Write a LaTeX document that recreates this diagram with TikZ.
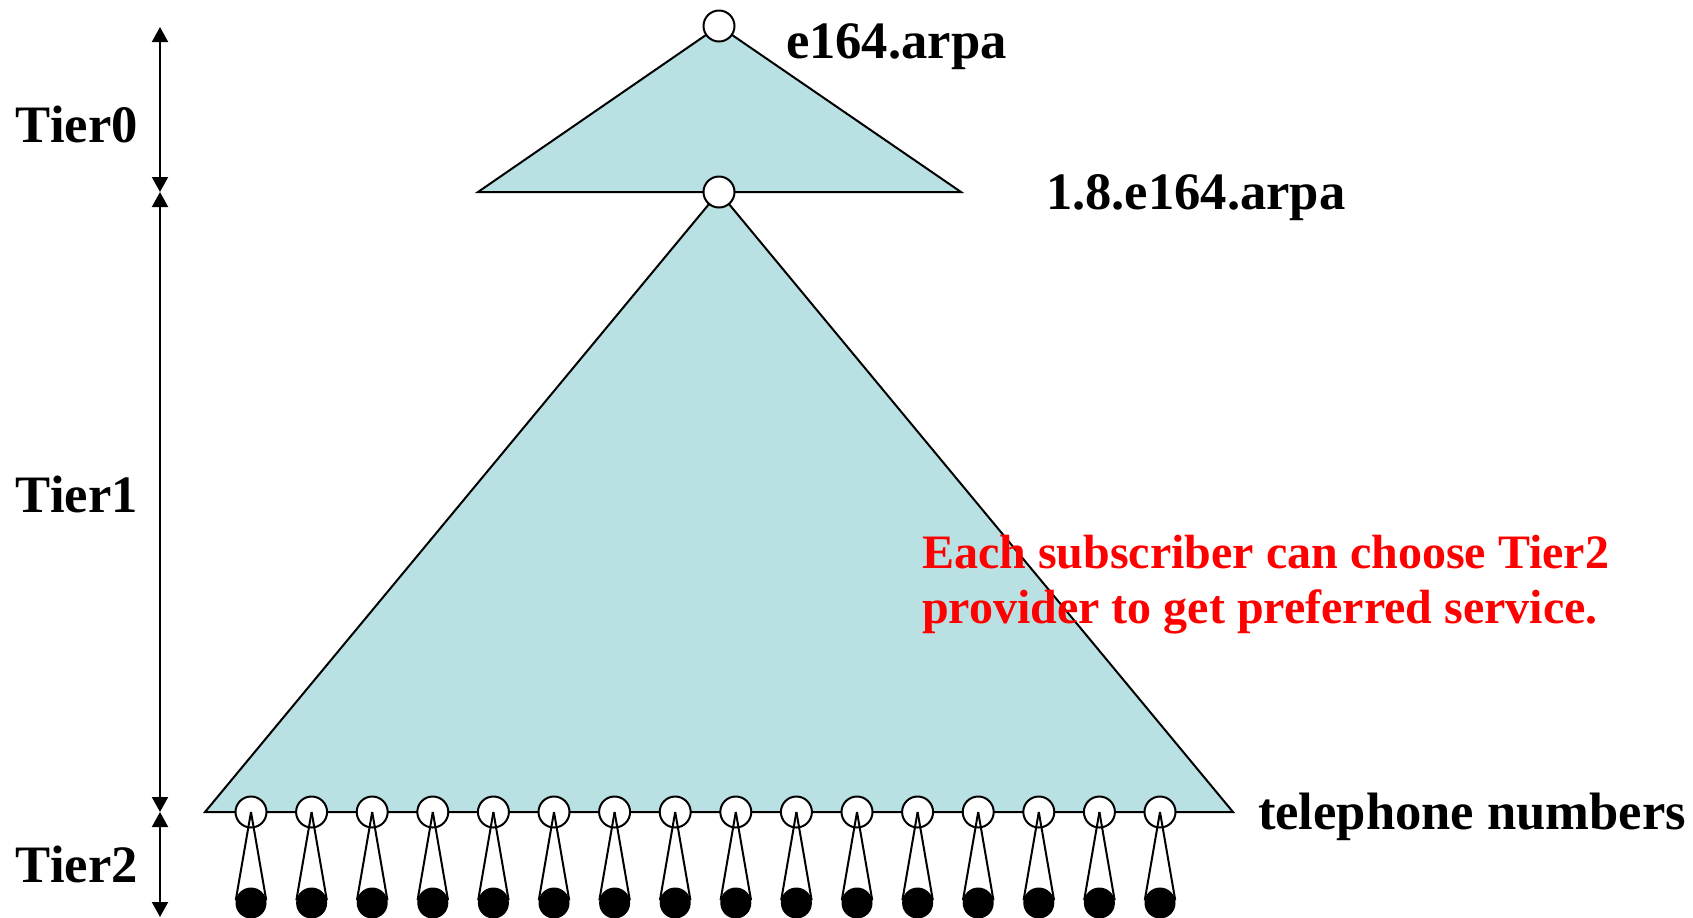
\documentclass[tikz,border=0pt]{standalone}
\usepackage{fontspec}
\setmainfont{Liberation Serif}
\usetikzlibrary{arrows.meta}
\definecolor{tierfill}{RGB}{185,224,227}

\begin{document}
\begin{tikzpicture}[x=0.5pt, y=-0.5pt, line width=1pt,
  hollow/.style={circle, draw, fill=white, minimum size=15.5pt, inner sep=0pt, outer sep=0pt},
  subdot/.style={circle, fill=black, minimum size=15.5pt, inner sep=0pt, outer sep=0pt},
  tierarrow/.style={{Triangle[length=7.5pt,width=8pt]}-{Triangle[length=7.5pt,width=8pt]}},
  tiertext/.style={anchor=base west, inner sep=0pt, font=\fontsize{26.3}{30}\selectfont\bfseries},
  notetext/.style={anchor=base west, inner sep=0pt, text=red, font=\fontsize{24}{28}\selectfont\bfseries}]
\useasboundingbox (0,0) rectangle (1693,917);
\coordinate (top) at (719,26);
\coordinate (mid) at (719,192);
\coordinate (l0) at (478,192);
\coordinate (r0) at (961,192);
\coordinate (l1) at (205,812);
\coordinate (r1) at (1233,812);
% the two zones
\filldraw[fill=tierfill] (l1) -- (mid) -- (r1) -- cycle;
\filldraw[fill=tierfill] (l0) -- (top) -- (r0) -- cycle;
\node[hollow] (root) at (top) {};
\node[hollow] (zone) at (mid) {};
% numbers and their providers
\foreach \i in {0,...,15} {
  \node[hollow] (num\i) at ({251+60.6*\i},812) {};
  \node[subdot] (sub\i) at ({251+60.6*\i},903) {};
  \draw (num\i.center) -- (sub\i.170);
  \draw (num\i.center) -- (sub\i.10);
}
% tier scale
\coordinate (t0) at (160,27);
\coordinate (t1) at (160,192);
\coordinate (t2) at (160,812);
\coordinate (t3) at (160,917);
\draw[tierarrow] (t0) -- (t1);
\draw[tierarrow] (t1) -- (t2);
\draw[tierarrow] (t2) -- (t3);
\node[tiertext] (tier0) at (15,142) {Tier0};
\node[tiertext] (tier1) at (15,512) {Tier1};
\node[tiertext] (tier2) at (15,882) {Tier2};
% labels
\node[tiertext] (rootname) at (785,58) {e164.arpa};
\node[tiertext] (zonename) at (1045,209) {1.8.e164.arpa};
\node[tiertext] (numbers) at (1257,829) {telephone numbers};
\node[notetext] (note1) at (921,568) {Each subscriber can choose Tier2};
\node[notetext] (note2) at (921,623) {provider to get preferred service.};
\end{tikzpicture}
\end{document}
